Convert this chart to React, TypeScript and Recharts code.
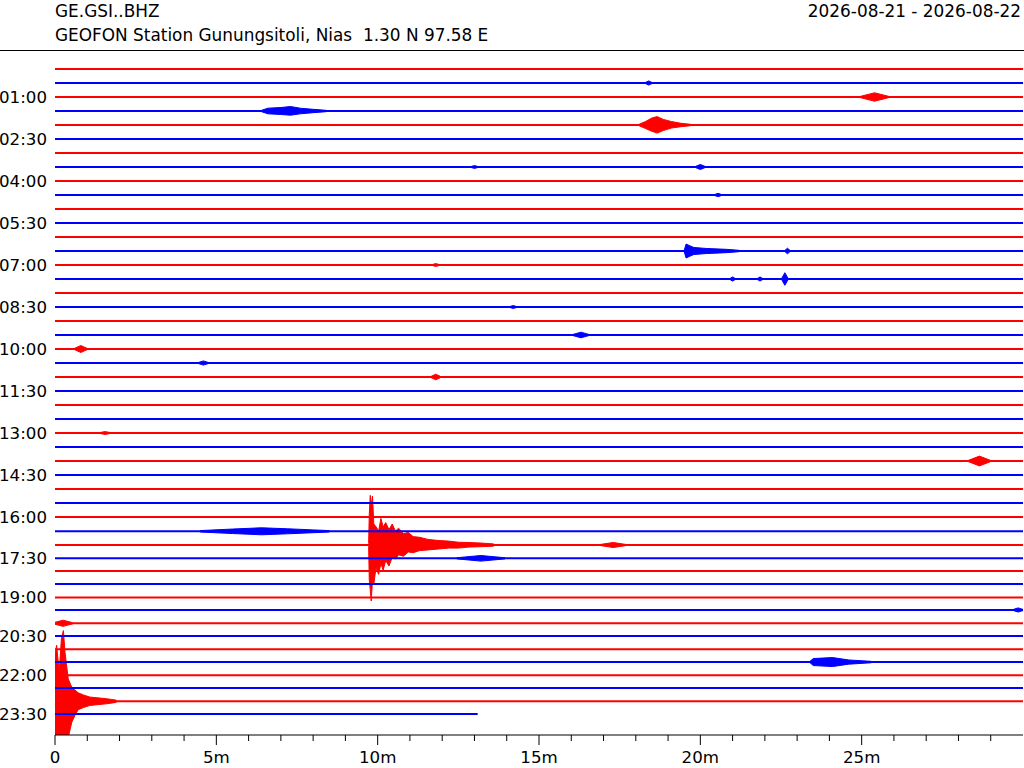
import { Area, ComposedChart, Line, XAxis, YAxis } from 'recharts';

const RED = '#ff0000';
const BLUE = '#0000ff';
const FONT = '"DejaVu Sans", sans-serif';

// vertical level of each half-hour trace (row spacing = 1)
const rowLevels = [
  0, 1, 2, 3, 4, 5, 6, 7, 8, 9, 10, 11, 12, 13, 14, 15, 16, 17, 18, 19, 20,
  21, 22, 23, 24, 25, 26, 27, 28, 29, 30, 31, 32, 33.02, 34.0, 34.95, 35.86,
  36.79, 37.74, 38.64, 39.59, 40.5, 41.45, 42.36, 43.31, 44.21, 45.16, 46.07,
];

const labelRows = [2, 5, 8, 11, 14, 17, 20, 23, 26, 29, 32, 35, 38, 41, 44, 47];
const hourLabels = [
  '01:00', '02:30', '04:00', '05:30', '07:00', '08:30', '10:00', '11:30',
  '13:00', '14:30', '16:00', '17:30', '19:00', '20:30', '22:00', '23:30',
];

const minuteTicks = [
  0, 1, 2, 3, 4, 5, 6, 7, 8, 9, 10, 11, 12, 13, 14, 15, 16, 17, 18, 19, 20,
  21, 22, 23, 24, 25, 26, 27, 28, 29,
];
const majorMinutes = [0, 5, 10, 15, 20, 25];
const majorLabels = ['0', '5m', '10m', '15m', '20m', '25m'];

const traceSpan = 30;
const lastTraceEnd = 13.1;

// envelopes: [minute, up, down] in row units
const quake1700 = [
  [9.72, 0.1, 0.1], [9.74, 2.2, 2.5], [9.77, 3.55, 3.2], [9.8, 2.8, 4.0],
  [9.84, 3.5, 2.5], [9.88, 1.5, 2.8], [9.95, 1.3, 1.6], [10.03, 1.0, 2.1],
  [10.1, 1.9, 1.3], [10.17, 1.3, 1.8], [10.25, 1.6, 1.1], [10.35, 1.1, 1.5],
  [10.45, 1.5, 0.9], [10.55, 1.0, 1.0], [10.65, 1.2, 0.7], [10.8, 0.8, 0.8],
  [10.95, 0.9, 0.5], [11.1, 0.6, 0.55], [11.3, 0.55, 0.4], [11.56, 0.4, 0.35],
  [11.9, 0.32, 0.28], [12.2, 0.28, 0.22], [12.5, 0.2, 0.22], [12.8, 0.18, 0.15],
  [13.2, 0.14, 0.12], [13.6, 0.08, 0.08],
];
const quake2300 = [
  [0.0, 3.3, 2.8], [0.05, 4.0, 2.8], [0.13, 2.1, 3.0], [0.2, 4.5, 3.0],
  [0.26, 5.05, 3.0], [0.31, 3.5, 3.0], [0.41, 1.6, 2.6], [0.52, 1.0, 1.5],
  [0.62, 0.8, 1.0], [0.72, 0.6, 0.6], [0.88, 0.45, 0.45], [1.08, 0.3, 0.3],
  [1.6, 0.18, 0.18], [1.9, 0.08, 0.08],
];
const burst0200 = [
  [18.1, 0.05, 0.05], [18.3, 0.25, 0.25], [18.5, 0.5, 0.45], [18.66, 0.6, 0.58],
  [18.85, 0.4, 0.4], [19.1, 0.25, 0.22], [19.4, 0.12, 0.12], [19.7, 0.05, 0.05],
];
const burst0130 = [
  [6.4, 0.05, 0.05], [6.6, 0.2, 0.2], [7.0, 0.25, 0.25], [7.3, 0.32, 0.3],
  [7.6, 0.2, 0.2], [8.0, 0.12, 0.12], [8.4, 0.05, 0.05],
];
const burst0630 = [
  [19.5, 0.05, 0.05], [19.56, 0.5, 0.5], [19.65, 0.4, 0.4], [19.8, 0.25, 0.25],
  [20.2, 0.18, 0.18], [20.8, 0.12, 0.12], [21.2, 0.05, 0.05],
];
const burst1630 = [
  [4.5, 0.05, 0.05], [5.5, 0.16, 0.16], [6.4, 0.25, 0.25], [7.2, 0.18, 0.18],
  [8.0, 0.1, 0.1], [8.5, 0.05, 0.05],
];
const burst2130 = [
  [23.4, 0.05, 0.05], [23.5, 0.25, 0.25], [24.1, 0.32, 0.32], [24.6, 0.15, 0.15],
  [25.3, 0.05, 0.05],
];
// small blips: [row, minute, amplitude, half width]
const blips = [
  [1, 18.4, 0.15, 0.1], [2, 25.4, 0.3, 0.45], [7, 20.0, 0.18, 0.15],
  [7, 13.0, 0.1, 0.1], [9, 20.55, 0.12, 0.1], [13, 22.7, 0.2, 0.08],
  [14, 11.8, 0.1, 0.1], [15, 21.0, 0.15, 0.08], [15, 21.85, 0.15, 0.08],
  [15, 22.62, 0.45, 0.1], [17, 14.2, 0.1, 0.1], [19, 16.3, 0.2, 0.25],
  [20, 0.8, 0.25, 0.2], [21, 4.6, 0.15, 0.15], [22, 11.8, 0.2, 0.15],
  [26, 1.55, 0.1, 0.15], [28, 28.65, 0.35, 0.35], [34, 17.3, 0.18, 0.4],
  [35, 13.2, 0.2, 0.75], [39, 29.85, 0.15, 0.15], [40, 0.25, 0.22, 0.3],
];

const envelopes = [
  { row: 34, pts: quake1700 },
  { row: 46, pts: quake2300 },
  { row: 4, pts: burst0200 },
  { row: 3, pts: burst0130 },
  { row: 13, pts: burst0630 },
  { row: 33, pts: burst1630 },
  { row: 43, pts: burst2130 },
  ...blips.map(([row, t, a, w]) => ({
    row,
    pts: [[t - w, 0.04, 0.04], [t, a, a], [t + w, 0.04, 0.04]],
  })),
];

const colorOf = (row: number) => (row % 2 ? BLUE : RED);

const series: JSX.Element[] = [];
rowLevels.forEach((level, i) => {
  const end = i === rowLevels.length - 1 ? lastTraceEnd : traceSpan;
  series.push(
    <Line
      key={`r${i}`}
      data={[{ t: 0, v: level }, { t: end, v: level }]}
      dataKey="v"
      stroke={colorOf(i)}
      strokeWidth={2}
      dot={false}
      activeDot={false}
      isAnimationActive={false}
    />,
  );
  envelopes
    .filter((e) => e.row === i)
    .forEach((e, k) => {
      series.push(
        <Area
          key={`e${i}-${k}`}
          data={e.pts.map(([t, up, down]) => ({ t, v: [level - up, level + down] }))}
          dataKey="v"
          type="linear"
          stroke={colorOf(i)}
          strokeWidth={1}
          fill={colorOf(i)}
          fillOpacity={1}
          dot={false}
          activeDot={false}
          isAnimationActive={false}
        />,
      );
    });
});

const yTickLabel = (v: number) => {
  const idx = labelRows.indexOf(rowLevels.indexOf(v));
  return idx >= 0 ? hourLabels[idx] : '';
};

const MinuteTick = (props: any) => {
  const { x, y, payload } = props;
  const m = majorMinutes.indexOf(payload.value);
  return (
    <g>
      <line x1={x} x2={x} y1={y} y2={y + (m >= 0 ? 10 : 6)} stroke="#000" strokeWidth={1} />
      {m >= 0 && (
        <text x={x} y={y + 28} textAnchor="middle" fontFamily={FONT} fontSize={16.67} fill="#000">
          {majorLabels[m]}
        </text>
      )}
    </g>
  );
};

export default function App() {
  return (
    <div style={{ position: 'absolute', left: 0, top: 0, width: 1024, height: 768, background: '#fff' }}>
      <svg width={1024} height={52} style={{ position: 'absolute', left: 0, top: 0 }}>
        <text x={55} y={16.7} fontFamily={FONT} fontSize={16.9} fill="#000">GE.GSI..BHZ</text>
        <text x={55} y={40.7} fontFamily={FONT} fontSize={16.9} fill="#000" style={{ whiteSpace: 'pre' }}>
          GEOFON Station Gunungsitoli, Nias  1.30 N 97.58 E
        </text>
        <text x={1021} y={16.7} textAnchor="end" fontFamily={FONT} fontSize={16.9} fill="#000">
          2026-08-21 - 2026-08-22
        </text>
        <line x1={0} x2={1024} y1={50.5} y2={50.5} stroke="#000" strokeWidth={1} />
      </svg>
      <div style={{ position: 'absolute', left: 0, top: 0 }}>
        <ComposedChart width={1024} height={768} margin={{ top: 55, right: 1, bottom: 3, left: 0 }}>
          <XAxis
            type="number"
            dataKey="t"
            domain={[0, 30]}
            allowDataOverflow
            ticks={minuteTicks}
            interval={0}
            tick={<MinuteTick />}
            tickLine={false}
            tickSize={0}
            tickMargin={0}
            height={30}
            axisLine={{ stroke: '#000', strokeWidth: 1 }}
          />
          <YAxis
            type="number"
            reversed
            domain={[-1, 47.57]}
            allowDataOverflow
            ticks={labelRows.map((r) => rowLevels[r])}
            interval={0}
            tickFormatter={yTickLabel}
            width={55}
            axisLine={false}
            tickLine={false}
            tick={{ fill: '#000', fontSize: 16.67, fontFamily: FONT }}
          />
          {series}
        </ComposedChart>
      </div>
    </div>
  );
}
